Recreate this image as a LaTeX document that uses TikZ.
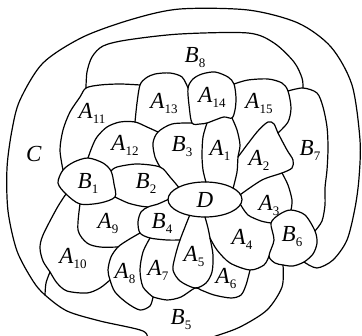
\documentclass[tikz,border=0pt]{standalone}
\usepackage{fontspec}
\setmainfont{Liberation Serif}
\usetikzlibrary{shapes.geometric}

\newcommand{\reg}[2]{\textit{#1}\raisebox{-5pt}{\fontsize{13}{13}\selectfont #2}}

\tikzset{
  rim/.style={line width=1.2pt, line join=round, line cap=round},
  lab/.style={font=\fontsize{23}{23}\selectfont, inner sep=0pt},
}

\begin{document}
\begin{tikzpicture}[x=1pt, y=-1pt]
  \useasboundingbox (0,0) rectangle (362,336);
  \clip (0,0) rectangle (362,336);
  % Centre blob
  \node[rim, draw, ellipse, minimum width=74pt, minimum height=35pt, lab, outer sep=0pt] (D) at (205,199.5) {\textit{D}};
  % Junctions
  \coordinate (jC5) at (45,295);
  \coordinate (jC6) at (304,262);
  \coordinate (jB8L) at (86,88);
  \coordinate (jB8R) at (303,88);
  \coordinate (j13a) at (140,85);
  \coordinate (j1314) at (188,88);
  \coordinate (j1415) at (234,84);
  \coordinate (j15B7) at (288,91);
  \coordinate (j1112) at (135,122);
  \coordinate (j11B1) at (63,170);
  \coordinate (j12B1) at (88,158);
  \coordinate (jB1B2t) at (111,171);
  \coordinate (jB1B2b) at (115,197);
  \coordinate (jA9B1) at (80,204);
  \coordinate (jA10B1) at (66,194);
  \coordinate (jB2B3) at (160,167);
  \coordinate (j13B3) at (158,132);
  \coordinate (j1314b) at (192,123);
  \coordinate (jB3A1) at (207,123);
  \coordinate (j1415b) at (232,118);
  \coordinate (jA1A2) at (238,157);
  \coordinate (jTip) at (278,133);
  \coordinate (jA2A3) at (282,173);
  \coordinate (jB2B4) at (148,207);
  \coordinate (jB4A8) at (140,233);
  \coordinate (jB4A7) at (150,238);
  \coordinate (jB4A5) at (180,240);
  \coordinate (j9810) at (118,247);
  \coordinate (jA810) at (110,280);
  \coordinate (jA78) at (153,297);
  \coordinate (jA5b) at (195,288);
  \coordinate (jA456) at (210,238);
  \coordinate (jA46) at (250,270);
  \coordinate (jA4B6) at (269,256);
  \coordinate (jA3A4B6) at (271,223);
  \coordinate (jA3B6B7) at (291,210);
  \coordinate (jB6B7C) at (315,231);
  \coordinate (jB5B6) at (283,265);
  \coordinate (jA10C5) at (50,272);
  % Outer rim of C
  \draw[rim] plot[smooth] coordinates {(148,342) (143,331) (100,321) (67,311) (jC5) (33,281) (17,251) (8,211) (7,168) (12,130) (20,100) (43,63) (83,37) (133,19) (180,9) (248,10) (298,23) (331,47) (352,85) (360,140) (359,178) (355,208) (347,240) (333,260) (317,268) (jC6)};
  % B8 and B7 rims
  \draw[rim] plot[smooth] coordinates {(jB8L) (87,72) (92,57) (103,46) (127,40) (180,34) (248,33) (274,43) (294,62) (302,78) (jB8R)};
  \draw[rim] plot[smooth] coordinates {(j15B7) (jB8R) (317,93) (323,107) (327,127) (328,148) (327,170) (325,188) (325,205) (322,221) (jB6B7C)};
  % Whole blobs
  \draw[rim] plot[smooth cycle] coordinates {(jA3A4B6) (280,214) (jA3B6B7) (305,215) (jB6B7C) (317,243) (313,254) (jC6) (293,266) (jB5B6) (275,263) (jA4B6) (274,240)};
  \draw[rim] plot[smooth cycle] coordinates {(j11B1) (74,162) (j12B1) (103,163) (jB1B2t) (114,184) (jB1B2b) (100,203) (jA9B1) (jA10B1) (58,183)};
  \draw[rim] plot[smooth cycle] coordinates {(j1314) (193,79) (202,74) (215,72) (228,77) (j1415) (236,98) (235,110) (j1415b) (224,117) (215,120) (jB3A1) (200,124) (j1314b) (189,105)};
  % Upper row
  \draw[rim] plot[smooth] coordinates {(j11B1) (60,150) (63,130) (70,112) (80,97) (jB8L) (100,85) (120,84) (j13a)};
  \draw[rim] plot[smooth] coordinates {(j1112) (137,103) (j13a) (146,78) (155,74) (170,73) (182,77) (j1314)};
  \draw[rim] plot[smooth] coordinates {(j12B1) (92,147) (97,137) (107,127) (120,122) (j1112) (147,127) (j13B3)};
  \draw[rim] plot[smooth] coordinates {(j1314b) (172,124) (j13B3) (153,143) (155,157) (jB2B3)};
  \draw[rim] plot[smooth] coordinates {(j1415) (248,80) (268,79) (282,83) (j15B7) (291,108) (288,122) (jTip)};
  % A1, A2, A3
  \draw[rim] plot[smooth] coordinates {(jB3A1) (203,137) (202,155) (203,170) (D.87)};
  \draw[rim] plot[smooth] coordinates {(j1415b) (237,130) (240,145) (jA1A2) (237,172) (D.22)};
  \draw[rim] plot[smooth] coordinates {(jA1A2) (257,132) (268,122) (274,124) (jTip) (287,150) (293,160) (292,168) (jA2A3) (262,180) (D.8)};
  \draw[rim] plot[smooth] coordinates {(jA2A3) (288,185) (292,200) (jA3B6B7)};
  \draw[rim] plot[smooth] coordinates {(D.352) (248,215) (261,221) (jA3A4B6)};
  % B2, B3, B4
  \draw[rim] plot[smooth] coordinates {(jB1B2t) (117,167) (137,164) (jB2B3) (170,177) (D.155)};
  \draw[rim] plot[smooth] coordinates {(jB1B2b) (128,203) (140,206) (jB2B4)};
  \draw[rim] plot[smooth] coordinates {(D.180) (158,204) (jB2B4) (141,212) (138,222) (jB4A8) (jB4A7) (167,240) (jB4A5)};
  % Lower row
  \draw[rim] plot[smooth] coordinates {(D.226) (jB4A5) (175,257) (173,270) (180,281) (jA5b) (206,283) (212,272) (213,255) (jA456) (208,228) (D.270)};
  \draw[rim] plot[smooth] coordinates {(jA456) (217,250) (230,263) (jA46) (264,265) (jA4B6)};
  \draw[rim] plot[smooth] coordinates {(jA46) (246,285) (241,295) (231,298) (214,295) (201,290) (jA5b) (181,297) (167,300) (jA78)};
  \draw[rim] plot[smooth] coordinates {(jB4A8) (128,240) (j9810) (111,257) (108,270) (jA810) (115,292) (127,303) (140,310) (150,306) (jA78)};
  \draw[rim] plot[smooth] coordinates {(jA78) (143,287) (140,270) (143,252) (jB4A7)};
  \draw[rim] plot[smooth] coordinates {(jA9B1) (78,230) (87,243) (100,247) (j9810)};
  \draw[rim] plot[smooth] coordinates {(jA10B1) (57,208) (43,235) (40,248) (43,261) (jA10C5) (57,283) (67,291) (87,293) (100,288) (jA810)};
  \draw[rim] plot[smooth] coordinates {(jA10C5) (46,283) (jC5)};
  \draw[rim] plot[smooth] coordinates {(jB5B6) (282,287) (267,310) (240,327) (213,337) (190,345)};
  % Labels
  \node[lab] (lC) at (34,154) {\textit{C}};
  \node[lab] (lB8) at (195,58) {\reg{B}{8}};
  \node[lab] (lA11) at (92,113) {\reg{A}{11}};
  \node[lab] (lA13) at (164,103) {\reg{A}{13}};
  \node[lab] (lA14) at (212,97) {\reg{A}{14}};
  \node[lab] (lA15) at (259,103) {\reg{A}{15}};
  \node[lab] (lA12) at (125,145) {\reg{A}{12}};
  \node[lab] (lB3) at (182,147) {\reg{B}{3}};
  \node[lab] (lA1) at (220,150) {\reg{A}{1}};
  \node[lab] (lA2) at (259,160) {\reg{A}{2}};
  \node[lab] (lB7) at (310,150) {\reg{B}{7}};
  \node[lab] (lB1) at (88,183) {\reg{B}{1}};
  \node[lab] (lB2) at (146,183) {\reg{B}{2}};
  \node[lab] (lA3) at (269,205) {\reg{A}{3}};
  \node[lab] (lB6) at (292,237) {\reg{B}{6}};
  \node[lab] (lA4) at (242,239) {\reg{A}{4}};
  \node[lab] (lA5) at (194,256) {\reg{A}{5}};
  \node[lab] (lA6) at (226,278) {\reg{A}{6}};
  \node[lab] (lB4) at (162,223) {\reg{B}{4}};
  \node[lab] (lA9) at (108,223) {\reg{A}{9}};
  \node[lab] (lA10) at (73,258) {\reg{A}{10}};
  \node[lab] (lA8) at (125,273) {\reg{A}{8}};
  \node[lab] (lA7) at (158,270) {\reg{A}{7}};
  \node[lab] (lB5) at (181,320) {\reg{B}{5}};
\end{tikzpicture}
\end{document}
